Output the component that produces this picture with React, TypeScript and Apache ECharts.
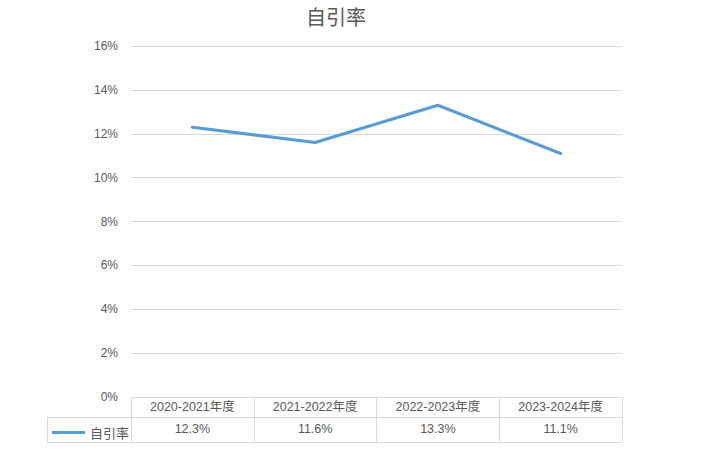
import React, { useEffect, useRef } from "react";
import * as echarts from "echarts";

const categories = ["2020-2021年度", "2021-2022年度", "2022-2023年度", "2023-2024年度"];
const seriesName = "自引率";
const values = [12.3, 11.6, 13.3, 11.1];
const yMin = 0;
const yMax = 16;
const yInterval = 2;

const FONT = "'Liberation Sans', 'Noto Sans CJK SC', sans-serif";
const CJK = "'Noto Sans CJK SC', sans-serif";
const TEXT = "#595959";
const BORDER = "#d9d9d9";

export default function App() {
  const ref = useRef<HTMLDivElement>(null);
  useEffect(() => {
    if (!ref.current) return;
    const chart = echarts.init(ref.current, null, { renderer: "svg" });
    const tableLabels = values.map((v) => v.toFixed(1) + "%");
    chart.setOption({
      animation: false,
      textStyle: { fontFamily: FONT },
      title: {
        text: "自引率",
        left: 331,
        textAlign: "center",
        top: 1,
        textStyle: { fontFamily: CJK, fontSize: 20, fontWeight: "normal", color: TEXT },
      },
      legend: {
        left: 47,
        top: 421,
        icon: "rect",
        itemWidth: 33,
        itemHeight: 3,
        textStyle: { fontFamily: CJK, fontSize: 13, color: TEXT },
        data: [seriesName],
      },
      grid: { left: 131, right: 81, top: 46, bottom: 54, containLabel: false },
      xAxis: [
        {
          type: "category",
          data: categories,
          boundaryGap: true,
          position: "bottom",
          axisLine: { show: true, lineStyle: { color: BORDER } },
          axisTick: { show: true, length: 45, lineStyle: { color: BORDER } },
          axisLabel: { margin: 4, fontSize: 12.5, color: TEXT, fontFamily: FONT },
        },
        {
          type: "category",
          data: tableLabels,
          boundaryGap: true,
          position: "bottom",
          offset: 20,
          axisLine: { show: true, lineStyle: { color: BORDER } },
          axisTick: { show: false },
          axisLabel: { margin: 6, fontSize: 12.5, color: TEXT, fontFamily: FONT },
        },
        {
          type: "category",
          data: categories,
          boundaryGap: true,
          position: "bottom",
          offset: 45,
          axisLine: { show: true, lineStyle: { color: BORDER } },
          axisTick: { show: false },
          axisLabel: { show: false },
        },
      ],
      yAxis: {
        type: "value",
        min: yMin,
        max: yMax,
        interval: yInterval,
        axisLine: { show: false },
        axisTick: { show: false },
        axisLabel: { formatter: "{value}%", margin: 13, fontSize: 12, color: TEXT, fontFamily: FONT },
        splitLine: { lineStyle: { color: BORDER, width: 1 } },
      },
      graphic: [
        { type: "line", shape: { x1: 47, y1: 417.5, x2: 131, y2: 417.5 }, style: { stroke: BORDER, lineWidth: 1 } },
        { type: "line", shape: { x1: 47, y1: 442.5, x2: 131, y2: 442.5 }, style: { stroke: BORDER, lineWidth: 1 } },
        { type: "line", shape: { x1: 47.5, y1: 417, x2: 47.5, y2: 443 }, style: { stroke: BORDER, lineWidth: 1 } },
      ],
      series: [
        {
          name: seriesName,
          type: "line",
          data: values,
          xAxisIndex: 0,
          symbol: "none",
          showSymbol: false,
          lineStyle: { color: "#5B9BD5", width: 3, cap: "round", join: "round" },
          itemStyle: { color: "#5B9BD5" },
        },
      ],
    });
    return () => chart.dispose();
  }, []);
  return <div ref={ref} style={{ position: "absolute", left: 0, top: 0, width: 703, height: 451 }} />;
}
